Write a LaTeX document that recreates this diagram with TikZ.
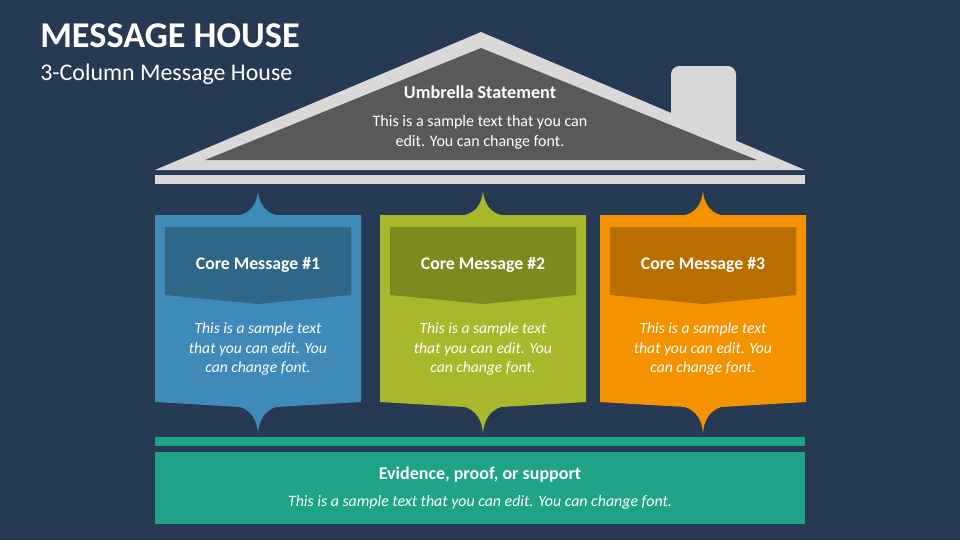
\documentclass[tikz,border=0pt]{standalone}
\usepackage{fontspec}
\setmainfont{Carlito}
\definecolor{bgnavy}{HTML}{263A54}
\definecolor{roofgray}{HTML}{D9D9D9}
\definecolor{roofdark}{HTML}{595959}
\definecolor{colblue}{HTML}{3F8AB8}
\definecolor{colbluedark}{HTML}{2F6787}
\definecolor{colgreen}{HTML}{A8B82A}
\definecolor{colgreendark}{HTML}{7D8A1E}
\definecolor{colorange}{HTML}{F59200}
\definecolor{colorangedark}{HTML}{BA6E00}
\definecolor{baseteal}{HTML}{1EA384}

\begin{document}
\begin{tikzpicture}[x=0.025cm, y=-0.025cm,
    every node/.style={text=white, align=center, inner sep=0pt},
    titletext/.style={font=\bfseries\fontsize{12.6}{15}\selectfont},
    bodytext/.style={font=\itshape\fontsize{11.1}{13.6}\selectfont}]
    % 背景
    \fill[bgnavy] (0,0) rectangle (960,540);
    \useasboundingbox (0,0) rectangle (960,540);

    % タイトル
    \node[anchor=base west, font=\bfseries\fontsize{25.8}{30}\selectfont] (title) at (40,47) {MESSAGE HOUSE};
    \node[anchor=base west, font=\fontsize{17}{19}\selectfont] (subtitle) at (40,80) {3-Column Message House};

    % 屋根
    \fill[roofgray, rounded corners=6] (671,150) -- (671,66) -- (736,66) -- (736,150) -- cycle;
    \fill[roofgray] (155,170) -- (481,32) -- (805,170) -- cycle;
    \fill[roofdark] (205,160) -- (481,48) -- (757,160) -- cycle;
    \fill[roofgray] (155,175) rectangle (805,184);
    \node[font=\bfseries\fontsize{12.9}{15}\selectfont] (umbrella) at (480,92) {Umbrella Statement};
    \node[font=\fontsize{11.4}{14.2}\selectfont] (umbrellatext) at (480,132) {This is a sample text that you can\\edit. You can change font.};

    % 柱
    \foreach \cx/\col/\dark/\num in {258/colblue/colbluedark/1, 483/colgreen/colgreendark/2, 703/colorange/colorangedark/3} {
        \fill[\col] (\cx-103,215) -- (\cx-18,215)
            .. controls (\cx-6,212) and (\cx-1,202) .. (\cx,191)
            .. controls (\cx+1,202) and (\cx+6,212) .. (\cx+18,215)
            -- (\cx+103,215) -- (\cx+103,402) -- (\cx+18,407)
            .. controls (\cx+6,411) and (\cx+1,421) .. (\cx,433)
            .. controls (\cx-1,421) and (\cx-6,411) .. (\cx-18,407)
            -- (\cx-103,402) -- cycle;
        \fill[black, opacity=0.25] (\cx-93,229) -- (\cx+93,229) -- (\cx+93,295) -- (\cx,304) -- (\cx-93,295) -- cycle;
        \fill[\dark] (\cx-93,227) -- (\cx+93,227) -- (\cx+93,292) -- (\cx,301) -- (\cx-93,292) -- cycle;
        \node[titletext] (core\num) at (\cx,265) {Core Message \#\num};
        \node[bodytext] (coretext\num) at (\cx,349) {This is a sample text\\that you can edit. You\\can change font.};
    }

    % 土台
    \fill[baseteal] (155,437) rectangle (805,446);
    \fill[baseteal] (155,452) rectangle (805,524);
    \node[font=\bfseries\fontsize{12.8}{15}\selectfont] (evidence) at (480,475) {Evidence, proof, or support};
    \node[bodytext, font=\itshape\fontsize{11.3}{13.6}\selectfont] (evidencetext) at (480,502) {This is a sample text that you can edit. You can change font.};
\end{tikzpicture}
\end{document}
